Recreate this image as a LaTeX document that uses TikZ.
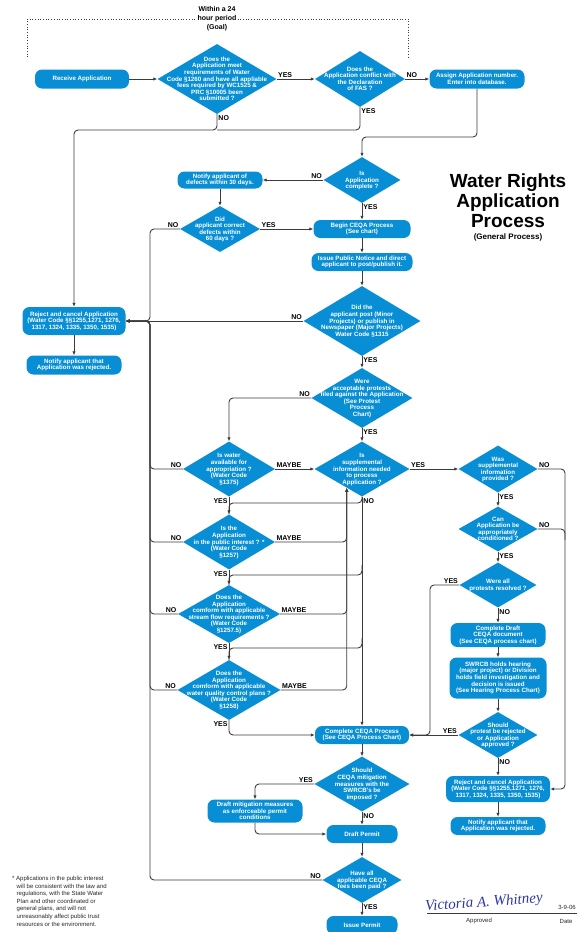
\documentclass[tikz,border=0pt]{standalone}
\usepackage{fontspec}
\setmainfont{Liberation Sans}
\newfontfamily\sigfont{Liberation Serif}
\usetikzlibrary{shapes.geometric, arrows.meta, calc}

\definecolor{wblue}{RGB}{8,142,212}
\definecolor{wline}{RGB}{60,60,60}
\definecolor{wsig}{RGB}{45,55,170}

\newcommand{\boxfont}{\fontsize{6.2}{6.6}\selectfont\bfseries}
\newcommand{\lblfont}{\fontsize{7}{7.5}\selectfont\bfseries}
% diamond text of zero size, so the diamond keeps its own size
\newcommand{\dtext}[1]{\smash{\raisebox{-2.2pt}{\makebox[0pt]{\begin{tabular}{@{}c@{}}#1\end{tabular}}}}}

\tikzset{
  proc/.style={rectangle, rounded corners=7pt, fill=wblue, text=white, font=\boxfont, align=center, inner sep=0pt},
  decision/.style={diamond, fill=wblue, text=white, font=\boxfont, inner sep=0pt},
  sz/.style 2 args={minimum width=#1pt, minimum height=#2pt},
  lbl/.style={font=\lblfont, text=black, inner sep=1pt},
  flow/.style={draw=wline, line width=0.9pt, rounded corners=4pt},
}

\begin{document}
\begin{tikzpicture}[x=1pt, y=-1pt, >={Latex[length=4pt,width=3.4pt]}]
  \useasboundingbox (0,0) rectangle (582,932);

  % goal bracket
  \node[font=\fontsize{7}{9}\selectfont\bfseries, align=center, inner sep=1pt] (goal) at (217,19) {Within a 24\\hour period\\(Goal)};
  \draw[dotted, draw=wline, line width=0.7pt] (27,57) |- (goal.west);
  \draw[dotted, draw=wline, line width=0.7pt] (goal.east) -| (408,57);

  % title
  \node[font=\fontsize{19}{20}\selectfont\bfseries, align=center] (title) at (508,201) {Water Rights\\Application\\Process};
  \node[font=\fontsize{8}{9}\selectfont\bfseries] (subtitle) at (508,237) {(General Process)};

  % top row
  \node[proc, sz={94}{19}] (recv) at (82,79) {Receive Application};
  \node[decision, sz={119}{70}] (qmeet) at (217,79) {\dtext{Does the\\Application meet\\requirements of Water\\Code §1260 and have all appliable\\fees required by WC1525 \&\\PRC §10005 been\\submitted ?}};
  \node[decision, sz={90}{56}] (qfas) at (360,79) {\dtext{Does the\\Application conflict with\\the Declaration\\of FAS ?}};
  \node[proc, sz={95}{19}] (assign) at (477,79) {Assign Application number.\\Enter into database.};

  % completeness
  \node[decision, sz={77}{46}] (qcomplete) at (362,180) {\dtext{Is\\Application\\complete ?}};
  \node[proc, sz={85}{17}] (notdef) at (220,180) {Notify applicant of\\defects within 30 days.};
  \node[decision, sz={80}{46}] (qcorrect) at (220,229) {\dtext{Did\\applicant correct\\defects within\\60 days ?}};
  \node[proc, sz={97}{18}] (ceqa) at (362,229) {Begin CEQA Process\\(See chart)};
  \node[proc, sz={101}{18}] (notice) at (362,262) {Issue Public Notice and direct\\applicant to post/publish it.};
  \node[decision, sz={117}{70}] (qpost) at (362,321) {\dtext{Did the\\applicant post (Minor\\Projects) or publish in\\Newspaper (Major Projects)\\Water Code §1315}};
  \node[proc, sz={103}{28}] (rejA) at (74,321) {Reject and cancel Application\\(Water Code §§1255,1271, 1276,\\1317, 1324, 1335, 1350, 1535)};
  \node[proc, sz={95}{19}] (notA) at (74,365) {Notify applicant that\\Application was rejected.};
  \node[decision, sz={101}{60}] (qprotest) at (362,398) {\dtext{Were\\acceptable protests\\filed against the Application\\(See Protest\\Process\\Chart)}};

  % left column
  \node[decision, sz={92}{55}] (qwater) at (229,469) {\dtext{Is water\\available for\\appropriation ?\\(Water Code\\§1375)}};
  \node[decision, sz={95}{55}] (qsupp) at (362,469) {\dtext{Is\\supplemental\\information needed\\to process\\Application ?}};
  \node[decision, sz={92}{55}] (qpublic) at (229,542) {\dtext{Is the\\Application\\in the public interest ? *\\(Water Code\\§1257)}};
  \node[decision, sz={102}{58}] (qstream) at (229,614) {\dtext{Does the\\Application\\comform with applicable\\stream flow requirements ?\\(Water Code\\§1257.5)}};
  \node[decision, sz={103}{60}] (qquality) at (229,690) {\dtext{Does the\\Application\\comform with applicable\\water quality control plans ?\\(Water Code\\§1258)}};

  % right column
  \node[decision, sz={79}{47}] (qprovided) at (498,469) {\dtext{Was\\supplemental\\information\\provided ?}};
  \node[decision, sz={79}{45}] (qcond) at (498,529) {\dtext{Can\\Application be\\appropriately\\conditioned ?}};
  \node[decision, sz={77}{45}] (qresolved) at (498,585) {\dtext{Were all\\protests resolved ?}};
  \node[proc, sz={95}{24}] (draft) at (498,635) {Complete Draft\\CEQA document\\(See CEQA process chart)};
  \node[proc, sz={97}{41}] (hearing) at (498,678) {SWRCB holds hearing\\(major project) or Division\\holds field investigation and\\decision is issued\\(See Hearing Process Chart)};
  \node[decision, sz={79}{46}] (qreject) at (498,735) {\dtext{Should\\protest be rejected\\or Application\\approved ?}};
  \node[proc, sz={104}{26}] (rejB) at (498,789) {Reject and cancel Application\\(Water Code §§1255,1271, 1276,\\1317, 1324, 1335, 1350, 1535)};
  \node[proc, sz={95}{18}] (notB) at (498,826) {Notify applicant that\\Application was rejected.};

  % bottom
  \node[proc, sz={94}{18}] (final) at (362,735) {Complete CEQA Process\\(See CEQA Process Chart)};
  \node[decision, sz={95}{55}] (qmitig) at (362,784) {\dtext{Should\\CEQA mitigation\\measures with the\\SWRCB's be\\imposed ?}};
  \node[proc, sz={95}{23}] (mitig) at (255,811) {Draft mitigation measures\\as enforceable permit\\conditions};
  \node[proc, sz={71}{18}] (permit) at (362,834) {Draft Permit};
  \node[decision, sz={79}{46}] (qfees) at (362,880) {\dtext{Have all\\applicable CEQA\\fees been paid ?}};
  \node[proc, sz={71}{18}] (issue) at (362,925) {Issue Permit};

  \coordinate (jn) at (150,321);
  \coordinate (mb) at ($(qsupp.south)!0.32!(qsupp.west)$);

  % connectors, top
  \draw[flow, ->] (recv.east) -- (qmeet.west);
  \draw[flow, ->] (qmeet.east) node[lbl, above right] {YES} -- (qfas.west);
  \draw[flow, ->] (qfas.east) node[lbl, above right] {NO} -- (assign.west);
  \draw[flow, ->] (qmeet.south) node[lbl, below right] {NO} |- (rejA.north |- 0,130) -- (rejA.north);
  \draw[flow] (qfas.south) node[lbl, below right] {YES} |- (qmeet.south |- 0,130);
  \draw[flow, ->] (assign.south) |- (qcomplete.north |- 0,137) -- (qcomplete.north);
  \draw[flow, ->] (qcomplete.west) node[lbl, above left] {NO} -- (notdef.east);
  \draw[flow, ->] (qcomplete.south) node[lbl, below right] {YES} -- (ceqa.north);
  \draw[flow, ->] (notdef) -- (qcorrect);
  \draw[flow, ->] (qcorrect.east) node[lbl, above right] {YES} -- (ceqa.west);
  \draw[flow, ->] (qcorrect.west) node[lbl, above left] {NO} -| (jn) -- (rejA.east);
  \draw[flow, ->] (ceqa) -- (notice);
  \draw[flow, ->] (notice) -- (qpost);
  \draw[flow, ->] (qpost.west) node[lbl, above left] {NO} -- (rejA.east);
  \draw[flow, ->] (rejA) -- (notA);
  \draw[flow, ->] (qpost.south) node[lbl, below right] {YES} -- (qprotest.north);
  \draw[flow, ->] (qprotest.west) node[lbl, above left] {NO} -| (qwater.north);
  \draw[flow, ->] (qprotest.south) node[lbl, below right] {YES} -- (qsupp.north);

  % left column
  \draw[flow, ->] (qwater.west) node[lbl, above left] {NO} -| (jn) -- (rejA.east);
  \draw[flow, ->] (qwater.east) node[lbl, above right] {MAYBE} -- (qsupp.west);
  \draw[flow, ->] (qwater.south) node[lbl, below left] {YES} -- (qpublic.north);
  \draw[flow, ->] (qpublic.west) node[lbl, above left] {NO} -| (jn) -- (rejA.east);
  \draw[flow, ->] (qpublic.east) node[lbl, above right] {MAYBE} -| (mb);
  \draw[flow, ->] (qpublic.south) node[lbl, below left] {YES} -- (qstream.north);
  \draw[flow, ->] (qstream.west) node[lbl, above left] {NO} -| (jn) -- (rejA.east);
  \draw[flow, ->] (qstream.east) node[lbl, above right] {MAYBE} -| (mb);
  \draw[flow, ->] (qstream.south) node[lbl, below left] {YES} -- (qquality.north);
  \draw[flow, ->] (qquality.west) node[lbl, above left] {NO} -| (jn) -- (rejA.east);
  \draw[flow, ->] (qquality.east) node[lbl, above right] {MAYBE} -| (mb);
  \draw[flow, ->] (qquality.south) node[lbl, below left] {YES} |- (final.west);

  % no supplemental information
  \draw[flow, ->] (qsupp.south) node[lbl, below right] {NO} -- (final.north);
  \draw[flow] (qsupp.south) |- (qpublic.north |- 0,503) -- (qpublic.north);
  \draw[flow] (qsupp.south |- 0,565) |- (qstream.north |- 0,575) -- (qstream.north);
  \draw[flow] (qsupp.south |- 0,638) |- (qquality.north |- 0,648) -- (qquality.north);

  % right column
  \draw[flow, ->] (qsupp.east) node[lbl, above right] {YES} -- (qprovided.west);
  \draw[flow, ->] (qprovided.east) node[lbl, above right] {NO} -| (rejB.east -| 565,0) -- (rejB.east);
  \draw[flow] (qcond.east) node[lbl, above right] {NO} -| (565,540);
  \draw[flow, ->] (qprovided.south) node[lbl, below right] {YES} -- (qcond.north);
  \draw[flow, ->] (qcond.south) node[lbl, below right] {YES} -- (qresolved.north);
  \draw[flow, ->] (qresolved.west) node[lbl, above left] {YES} -| (final.east -| 430,0) -- (final.east);
  \draw[flow, ->] (qresolved.south) node[lbl, below right] {NO} -- (draft.north);
  \draw[flow, ->] (draft) -- (hearing);
  \draw[flow, ->] (hearing) -- (qreject);
  \draw[flow, ->] (qreject.west) node[lbl, above left] {YES} -- (final.east);
  \draw[flow, ->] (qreject.south) node[lbl, below right] {NO} -- (rejB.north);
  \draw[flow, ->] (rejB) -- (notB);

  % bottom
  \draw[flow, ->] (final) -- (qmitig);
  \draw[flow, ->] (qmitig.west) node[lbl, above left] {YES} -| (mitig.north);
  \draw[flow, ->] (qmitig.south) node[lbl, below right] {NO} -- (permit.north);
  \draw[flow, ->] (mitig.south) |- (permit.west);
  \draw[flow, ->] (permit) -- (qfees);
  \draw[flow, ->] (qfees.west) node[lbl, above left] {NO} -| (jn) -- (rejA.east);
  \draw[flow, ->] (qfees.south) node[lbl, below right] {YES} -- (issue.north);

  % footnote and approval
  \node[font=\fontsize{6}{7.6}\selectfont, align=left, anchor=north west, text=black!85, inner sep=0pt] (note) at (12,876)
    {* Applications in the public interest\\\hspace*{4.5pt}will be consistent with the law and\\\hspace*{4.5pt}regulations, with the State Water\\\hspace*{4.5pt}Plan and other coordinated or\\\hspace*{4.5pt}general plans, and will not\\\hspace*{4.5pt}unreasonably affect public trust\\\hspace*{4.5pt}resources or the environment.};
  \node[font=\sigfont\itshape\fontsize{15}{15}\selectfont, text=wsig, rotate=4] (sig) at (484,903) {Victoria A. Whitney};
  \draw[draw=wline, line width=0.5pt] (427,913) -- (577,913);
  \node[font=\fontsize{6}{7}\selectfont, text=black!85] (signdate) at (567,907) {3-9-06};
  \node[font=\fontsize{6}{7}\selectfont, text=black!85] (approved) at (479,921) {Approved};
  \node[font=\fontsize{6}{7}\selectfont, text=black!85] (datelbl) at (566,921) {Date};
\end{tikzpicture}
\end{document}
